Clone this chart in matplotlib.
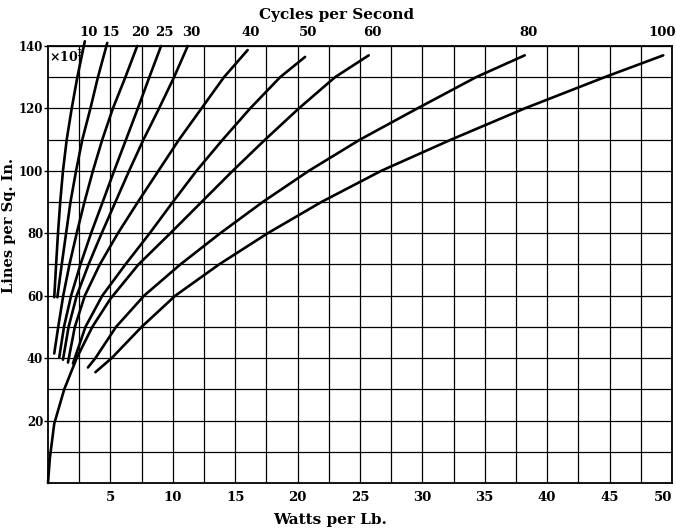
import matplotlib
matplotlib.use("Agg")
import matplotlib.pyplot as plt
import numpy as np

# curve data: watts per lb vs lines per sq. in. (x1000)
freqs = [10, 15, 20, 25, 30, 40, 50, 60, 80, 100]

b10 = [59.5, 70, 80, 90, 100, 110, 120, 130, 141.5]
w10 = [0.50, 0.65, 0.80, 0.98, 1.20, 1.50, 1.90, 2.35, 2.95]

b15 = [59.5, 70, 80, 90, 100, 110, 120, 130, 141]
w15 = [0.75, 1.10, 1.45, 1.80, 2.25, 2.75, 3.40, 4.00, 4.75]

b20 = [41.5, 50, 60, 70, 80, 90, 100, 110, 120, 130, 140]
w20 = [0.50, 0.82, 1.22, 1.72, 2.30, 2.92, 3.60, 4.35, 5.20, 6.20, 7.15]

b25 = [40.2, 50, 60, 70, 80, 90, 100, 110, 120, 130, 140]
w25 = [0.90, 1.28, 1.85, 2.60, 3.45, 4.38, 5.30, 6.25, 7.20, 8.12, 9.06]

b30 = [39.5, 50, 60, 70, 80, 90, 100, 110, 120, 130, 140]
w30 = [1.20, 1.65, 2.30, 3.25, 4.30, 5.40, 6.50, 7.65, 8.90, 10.1, 11.2]

b40 = [38.6, 50, 60, 70, 80, 90, 100, 110, 120, 130, 138.7]
w40 = [1.60, 2.15, 2.95, 4.15, 5.60, 7.20, 8.85, 10.5, 12.3, 14.1, 16.0]

b50 = [38.3, 50, 60, 70, 80, 90, 100, 110, 120, 130, 136.5]
w50 = [2.00, 3.00, 4.35, 6.20, 8.15, 10.0, 11.9, 14.0, 16.2, 18.6, 20.6]

b60 = [0, 8, 19, 30, 40, 50, 59, 70, 80, 90, 100, 110, 120, 130, 137]
w60 = [0, 0.15, 0.5, 1.3, 2.3, 3.55, 5.0, 7.25, 9.8, 12.3, 14.8, 17.4, 20.1, 23.0, 25.7]

b80 = [37, 40, 50, 60, 70, 80, 90, 100, 110, 120, 130, 137]
w80 = [3.2, 3.8, 5.45, 7.7, 10.6, 13.8, 17.2, 20.9, 25.0, 29.6, 34.3, 38.2]

b100 = [35.5, 40, 50, 60, 70, 80, 90, 100, 110, 120, 130, 137]
w100 = [3.8, 5.1, 7.5, 10.2, 13.7, 17.6, 21.9, 26.7, 32.3, 38.2, 44.6, 49.3]

xticks = [5, 10, 15, 20, 25, 30, 35, 40, 45, 50]
yticks = [20, 40, 60, 80, 100, 120, 140]

curves = list(zip(freqs,
                  [w10, w15, w20, w25, w30, w40, w50, w60, w80, w100],
                  [b10, b15, b20, b25, b30, b40, b50, b60, b80, b100]))

serif = "DejaVu Serif"
fig = plt.figure(figsize=(6.76, 5.31), dpi=100)
ax = fig.add_axes([0.071, 0.0904, 0.923, 0.823])

ax.set_xlim(0, 50)
ax.set_ylim(0, 140)
ax.set_xticks(xticks)
ax.set_xticks(np.arange(2.5, 50, 5), minor=True)
ax.set_yticks(yticks)
ax.set_yticks(np.arange(10, 140, 20), minor=True)
ax.grid(which="both", color="black", lw=0.9)
ax.set_axisbelow(True)
for s in ax.spines.values():
    s.set_linewidth(1.3)

ax.tick_params(axis="x", which="both", length=0, pad=6)
ax.tick_params(axis="y", which="major", length=3, width=1, pad=0.5)
ax.tick_params(axis="y", which="minor", length=0)
for lab in ax.get_xticklabels():
    lab.set_family(serif)
    lab.set_fontweight("bold")
    lab.set_fontsize(9.5)
for lab in ax.get_yticklabels():
    lab.set_family(serif)
    lab.set_fontweight("bold")
    lab.set_fontsize(8.5)
ax.get_xticklabels()[-1].set_horizontalalignment("right")

for f, w, b in curves:
    last = f == freqs[-1]
    ax.annotate(str(f), xy=(w[-1], 140), xytext=(9 if last else 2.5, 5),
                textcoords="offset points", ha="right" if last else "center",
                va="bottom", family=serif, fontweight="bold", fontsize=9.5)
    ax.plot(w, b, color="black", lw=1.9, solid_joinstyle="round",
            solid_capstyle="round", clip_on=False)

ax.text(0.05, 139, "×10$^3$", ha="left", va="top", family=serif,
        fontsize=9, fontweight="bold")

ax.set_xlabel("Watts per Lb.", family=serif, fontweight="bold", fontsize=11)
ax.xaxis.label.set_va("center")
ax.xaxis.set_label_coords(0.452, -0.085)
ax.set_ylabel("Lines per Sq. In.", family=serif, fontweight="bold", fontsize=10.5)
ax.yaxis.label.set_va("center")
ax.yaxis.set_label_coords(-0.062, 0.59)
ax.text(0.463, 1.07, "Cycles per Second", transform=ax.transAxes,
        ha="center", va="center", family=serif, fontweight="bold", fontsize=11)

fig.savefig("out.png", dpi=100)
